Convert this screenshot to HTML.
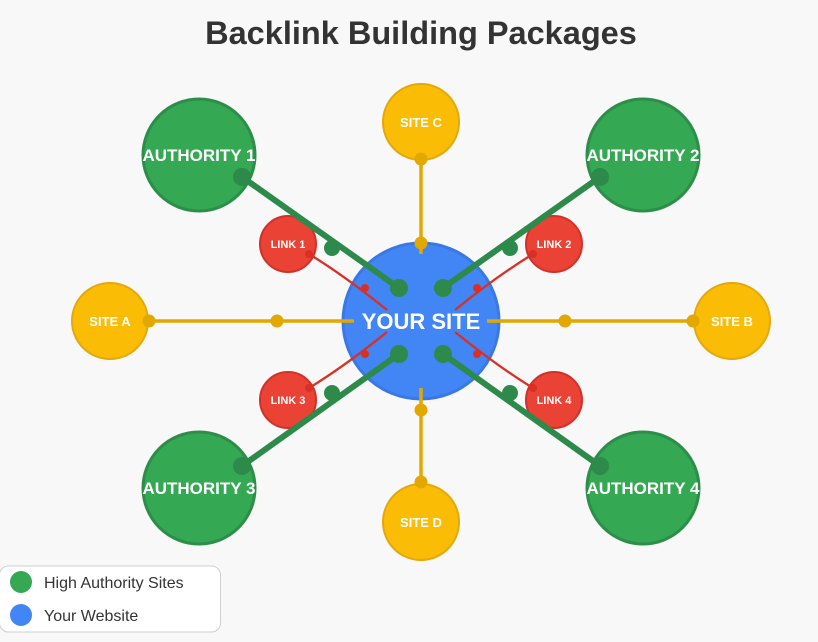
<!DOCTYPE html>
<html><head><meta charset="utf-8"><style>
html,body{margin:0;padding:0;background:#f8f8f8;}
svg{display:block;}
text{font-family:"Liberation Sans",Arial,sans-serif;font-weight:bold;fill:#fff;text-anchor:middle;}
</style></head><body>
<svg width="818" height="642" viewBox="0 0 818 642" xmlns="http://www.w3.org/2000/svg">
<rect width="818" height="642" fill="#f8f8f8"/>
<text x="421" y="44" style="font-size:32.5px;fill:#333">Backlink Building Packages</text>

<!-- circles -->
<g stroke-width="3">
<circle cx="199" cy="155" r="56" fill="#34a853" stroke="#2d8e49"/>
<circle cx="643" cy="155" r="56" fill="#34a853" stroke="#2d8e49"/>
<circle cx="199" cy="488" r="56" fill="#34a853" stroke="#2d8e49"/>
<circle cx="643" cy="488" r="56" fill="#34a853" stroke="#2d8e49"/>
<circle cx="421" cy="122" r="38" fill="#fbbc05" stroke="#e3a80a" stroke-width="2"/>
<circle cx="110" cy="321" r="38" fill="#fbbc05" stroke="#e3a80a" stroke-width="2"/>
<circle cx="732" cy="321" r="38" fill="#fbbc05" stroke="#e3a80a" stroke-width="2"/>
<circle cx="421" cy="522" r="38" fill="#fbbc05" stroke="#e3a80a" stroke-width="2"/>
<circle cx="288" cy="244" r="28" fill="#ea4335" stroke="#d2302a" stroke-width="2"/>
<circle cx="554" cy="244" r="28" fill="#ea4335" stroke="#d2302a" stroke-width="2"/>
<circle cx="288" cy="400" r="28" fill="#ea4335" stroke="#d2302a" stroke-width="2"/>
<circle cx="554" cy="400" r="28" fill="#ea4335" stroke="#d2302a" stroke-width="2"/>
<circle cx="421" cy="321" r="78" fill="#4285f4" stroke="#3a78e6"/>
</g>

<!-- gold lines -->
<g stroke="#e3a800" stroke-width="3.5">
<line x1="421" y1="158" x2="421" y2="254"/>
<line x1="421" y1="388" x2="421" y2="482"/>
<line x1="149" y1="321" x2="354" y2="321"/>
<line x1="487" y1="321" x2="693" y2="321"/>
</g>
<g fill="#e3a800">
<circle cx="421" cy="159" r="6.5"/><circle cx="421" cy="243" r="6.5"/>
<circle cx="421" cy="410" r="6.5"/><circle cx="421" cy="482" r="6.5"/>
<circle cx="149" cy="321" r="6.5"/><circle cx="277" cy="321" r="6.5"/>
<circle cx="565" cy="321" r="6.5"/><circle cx="693" cy="321" r="6.5"/>
</g>

<!-- red lines -->
<g stroke="#d93025" stroke-width="2.3" fill="none">
<path d="M309,254 Q345,276 387,310"/>
<path d="M533,254 Q497,276 455,310"/>
<path d="M309,388 Q345,366 387,332"/>
<path d="M533,388 Q497,366 455,332"/>
</g>
<g fill="#d93025">
<circle cx="309" cy="254" r="4"/><circle cx="365" cy="288" r="4"/>
<circle cx="533" cy="254" r="4"/><circle cx="477" cy="288" r="4"/>
<circle cx="309" cy="388" r="4"/><circle cx="365" cy="354" r="4"/>
<circle cx="533" cy="388" r="4"/><circle cx="477" cy="354" r="4"/>
</g>

<!-- green lines -->
<g stroke="#2d8a4a" stroke-width="6" stroke-linecap="round">
<line x1="242" y1="177" x2="399" y2="288"/>
<line x1="600" y1="177" x2="443" y2="288"/>
<line x1="242" y1="466" x2="399" y2="354"/>
<line x1="600" y1="466" x2="443" y2="354"/>
</g>
<g fill="#2d8a4a">
<circle cx="242" cy="177" r="9"/><circle cx="332" cy="248" r="8"/><circle cx="399" cy="288" r="9"/>
<circle cx="600" cy="177" r="9"/><circle cx="510" cy="248" r="8"/><circle cx="443" cy="288" r="9"/>
<circle cx="242" cy="466" r="9"/><circle cx="332" cy="393" r="8"/><circle cx="399" cy="354" r="9"/>
<circle cx="600" cy="466" r="9"/><circle cx="510" cy="393" r="8"/><circle cx="443" cy="354" r="9"/>
</g>

<!-- labels -->
<g style="font-size:17px">
<text x="199" y="161">AUTHORITY 1</text>
<text x="643" y="161">AUTHORITY 2</text>
<text x="199" y="494">AUTHORITY 3</text>
<text x="643" y="494">AUTHORITY 4</text>
</g>
<text x="421" y="329" style="font-size:22px">YOUR SITE</text>
<g style="font-size:13px">
<text x="421" y="127">SITE C</text>
<text x="110" y="326">SITE A</text>
<text x="732" y="326">SITE B</text>
<text x="421" y="527">SITE D</text>
</g>
<g style="font-size:11px">
<text x="288" y="248">LINK 1</text>
<text x="554" y="248">LINK 2</text>
<text x="288" y="404">LINK 3</text>
<text x="554" y="404">LINK 4</text>
</g>

<!-- legend -->
<rect x="-0.5" y="566" width="221" height="66" rx="9" fill="#fff" stroke="#cfcfcf" stroke-width="1"/>
<circle cx="21" cy="582" r="11" fill="#34a853"/>
<circle cx="21" cy="615" r="11" fill="#4285f4"/>
<text x="44" y="588" style="font-size:16px;font-weight:normal;fill:#333;text-anchor:start">High Authority Sites</text>
<text x="44" y="621" style="font-size:16px;font-weight:normal;fill:#333;text-anchor:start">Your Website</text>
</svg>
</body></html>
